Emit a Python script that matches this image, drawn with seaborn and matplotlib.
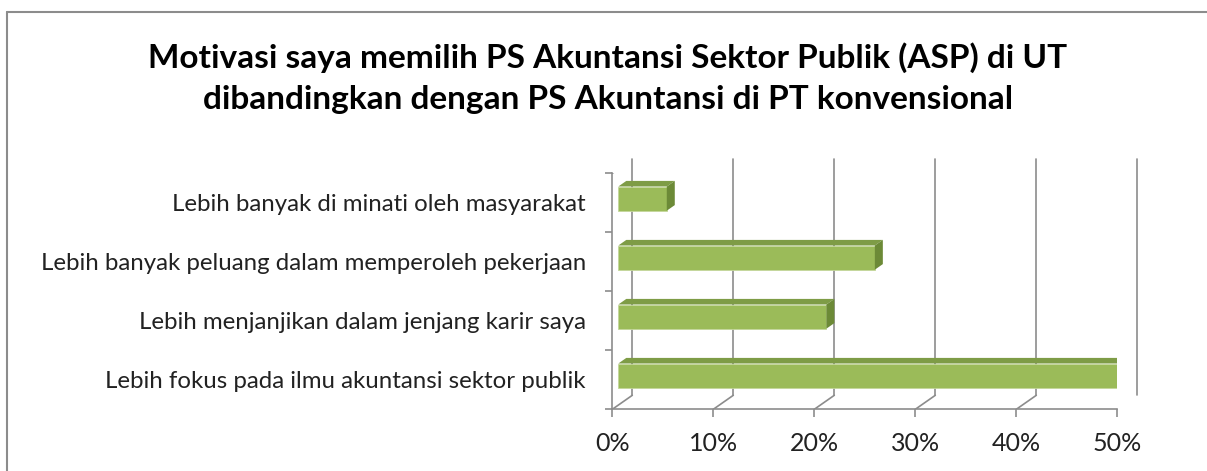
import matplotlib
matplotlib.use("Agg")
import matplotlib.pyplot as plt
from matplotlib.patches import Polygon
from matplotlib.lines import Line2D
from matplotlib.transforms import IdentityTransform, offset_copy
import seaborn as sns
import pandas as pd
import numpy as np

# data
categories = [
    "Lebih banyak di minati oleh masyarakat",
    "Lebih banyak peluang dalam memperoleh pekerjaan",
    "Lebih menjanjikan dalam jenjang karir saya",
    "Lebih fokus pada ilmu akuntansi sektor publik",
]
values = [4.8, 25.4, 20.6, 49.4]
x_ticks = [0, 10, 20, 30, 40, 50]
x_tick_labels = ["0%", "10%", "20%", "30%", "40%", "50%"]
title = ("Motivasi saya memilih PS Akuntansi Sektor Publik (ASP) di UT\n"
         "dibandingkan dengan PS Akuntansi di PT konvensional")

# colors
front_col = "#9BBB59"
top_col = "#7E9C46"
side_col = "#6C8A37"
grid_col = "#8C8C8C"

# 3d depth (pixels)
wall_dx, wall_dy = 20, 14
bar_front = 0.3
bar_depth = 0.4

sns.set_theme(style="white")
plt.rcParams["font.family"] = ["Lato", "DejaVu Sans"]

W, H = 1207, 471
fig = plt.figure(figsize=(W / 100, H / 100), dpi=100)
ax = fig.add_axes([612.3 / W, (H - 409.3) / H, 505 / W, (409.3 - 173.3) / H])

df = pd.DataFrame({"kategori": categories, "nilai": values})
sns.barplot(data=df, x="nilai", y="kategori", color=front_col, width=0.41,
            saturation=1, ax=ax, zorder=3)

ax.set_xlim(0, 50)
ax.set_ylim(3.5, -0.5)
ax.set_xlabel("")
ax.set_ylabel("")
ax.set_xticks(x_ticks, x_tick_labels)
ax.set_yticks(range(len(categories)), categories)
ax.set_yticks(np.arange(-0.5, 4, 1), minor=True)
ax.tick_params(axis="x", which="major", length=6, width=1.2, color=grid_col,
               direction="out", pad=10, labelsize=18, labelcolor="#222222",
               bottom=True)
ax.tick_params(axis="y", which="major", length=0, pad=19, labelsize=17.3,
               labelcolor="#222222")
ax.tick_params(axis="y", which="minor", length=5, width=1.2, color=grid_col,
               direction="out", left=True)
ax.grid(False)
for s in ["top", "right"]:
    ax.spines[s].set_visible(False)
for s in ["left", "bottom"]:
    ax.spines[s].set_color(grid_col)
    ax.spines[s].set_linewidth(1.2)
ax.patch.set_alpha(0)

# back wall grid lines + floor diagonals
back = offset_copy(ax.transData, fig=fig, x=wall_dx, y=wall_dy, units="dots")
for xv in x_ticks:
    ax.plot([xv, xv], [3.5, -0.5], color=grid_col, lw=1.2, transform=back,
            clip_on=False, zorder=1)
    p = ax.transData.transform((xv, 3.5))
    ax.add_line(Line2D([p[0], p[0] + wall_dx], [p[1], p[1] + wall_dy],
                       color=grid_col, lw=1.2, transform=IdentityTransform(),
                       zorder=1))
p = ax.transData.transform((0, -0.5))
ax.add_line(Line2D([p[0], p[0] + wall_dx], [p[1], p[1] + wall_dy],
                   color=grid_col, lw=1.2, transform=IdentityTransform(),
                   zorder=1))

# 3d bars: shift front face, add top and side faces
fx, fy = wall_dx * bar_front, wall_dy * bar_front
ddx, ddy = wall_dx * bar_depth, wall_dy * bar_depth
for bar in ax.patches[:len(categories)]:
    x0, y0 = bar.get_x(), bar.get_y()
    x1, y1 = x0 + bar.get_width(), y0 + bar.get_height()
    a = ax.transData.transform((x0, y0))
    b = ax.transData.transform((x1, y1))
    L, R = min(a[0], b[0]) + fx, max(a[0], b[0]) + fx
    B, T = min(a[1], b[1]) + fy, max(a[1], b[1]) + fy
    bar.set_transform(offset_copy(ax.transData, fig=fig, x=fx, y=fy, units="dots"))
    bar.set_edgecolor("#C4D79B")
    bar.set_linewidth(0.6)
    top = Polygon([(L, T), (R, T), (R + ddx, T + ddy), (L + ddx, T + ddy)],
                  closed=True, facecolor=top_col, edgecolor="none",
                  transform=IdentityTransform(), zorder=4)
    side = Polygon([(R, B), (R + ddx, B + ddy), (R + ddx, T + ddy), (R, T)],
                   closed=True, facecolor=side_col, edgecolor="none",
                   transform=IdentityTransform(), zorder=4)
    ax.add_patch(top)
    ax.add_patch(side)

# title
fig.text(608 / W, 1 - 78 / H, title, ha="center", va="center",
         fontsize=24, fontweight="bold", color="black", linespacing=1.5)

# chart border
fig.add_artist(Line2D([7 / W, 7 / W], [0, 1 - 12 / H], color=grid_col, lw=1.5,
                      transform=fig.transFigure))
fig.add_artist(Line2D([7 / W, 1], [1 - 12 / H, 1 - 12 / H], color=grid_col,
                      lw=1.5, transform=fig.transFigure))

fig.savefig("out.png", dpi=100)
